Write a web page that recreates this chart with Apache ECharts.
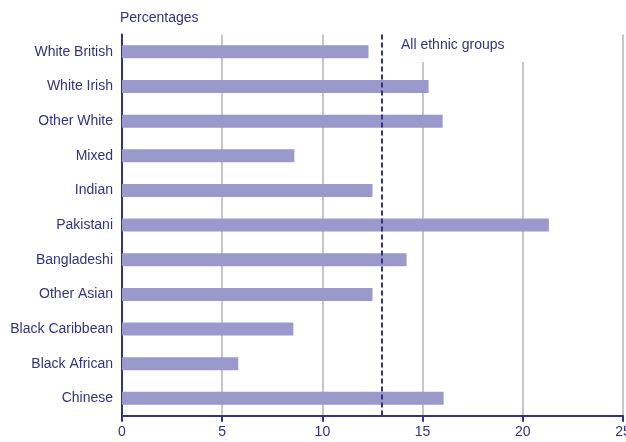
<!DOCTYPE html>
<html>
<head>
<meta charset="utf-8">
<script src="https://cdn.jsdelivr.net/npm/echarts@6/dist/echarts.min.js"></script>
<style>html,body{margin:0;padding:0;background:#fff}#c{width:626px;height:442px}</style>
</head>
<body>
<div id="c"></div>
<script>
const categories = ['White British','White Irish','Other White','Mixed','Indian','Pakistani','Bangladeshi','Other Asian','Black Caribbean','Black African','Chinese'];
const values = [12.3, 15.3, 16.0, 8.6, 12.5, 21.3, 14.2, 12.5, 8.55, 5.8, 16.05];
const allEthnicGroups = 12.95;
const xMin = 0, xMax = 25, xStep = 5;
const axisTitle = 'Percentages';
const refLabel = 'All ethnic groups';

const navy = '#33337f';
const font = 'Liberation Sans, Arial, sans-serif';
const chart = echarts.init(document.getElementById('c'));
chart.setOption({
  animation: false,
  backgroundColor: '#fff',
  grid: { left: 122, right: 3, top: 34.5, bottom: 26.3, containLabel: false, outerBoundsMode: 'none' },
  xAxis: {
    type: 'value', min: xMin, max: xMax, interval: xStep,
    axisLine: { show: true, lineStyle: { color: navy, width: 2 } },
    axisTick: { show: true, length: 6, lineStyle: { color: navy, width: 2 } },
    axisLabel: { color: navy, fontFamily: font, fontSize: 14, margin: 9, showMaxLabel: true },
    splitLine: { show: true, lineStyle: { color: '#b3b3b3', width: 1.5 } }
  },
  yAxis: {
    type: 'category', data: categories, inverse: true,
    axisLine: { show: true, lineStyle: { color: navy, width: 2 } },
    axisTick: { show: false },
    axisLabel: { color: navy, fontFamily: font, fontSize: 14, margin: 9 },
    splitLine: { show: false }
  },
  graphic: [
    { type: 'rect', z: 1, shape: { x: 395, y: 28, width: 170, height: 34 }, style: { fill: '#fff' } },
    { type: 'text', z: 3, left: 401, top: 38, style: { text: refLabel, fill: navy, font: '14px ' + font } },
    { type: 'text', z: 3, left: 120, top: 11, style: { text: axisTitle, fill: navy, font: '14px ' + font } }
  ],
  series: [{
    type: 'bar', data: values, barWidth: 13,
    itemStyle: { color: '#9999cc' },
    markLine: {
      silent: true, symbol: 'none', label: { show: false },
      lineStyle: { color: navy, type: [5, 3], width: 2 },
      data: [{ xAxis: allEthnicGroups }]
    }
  }]
});
</script>
</body>
</html>
